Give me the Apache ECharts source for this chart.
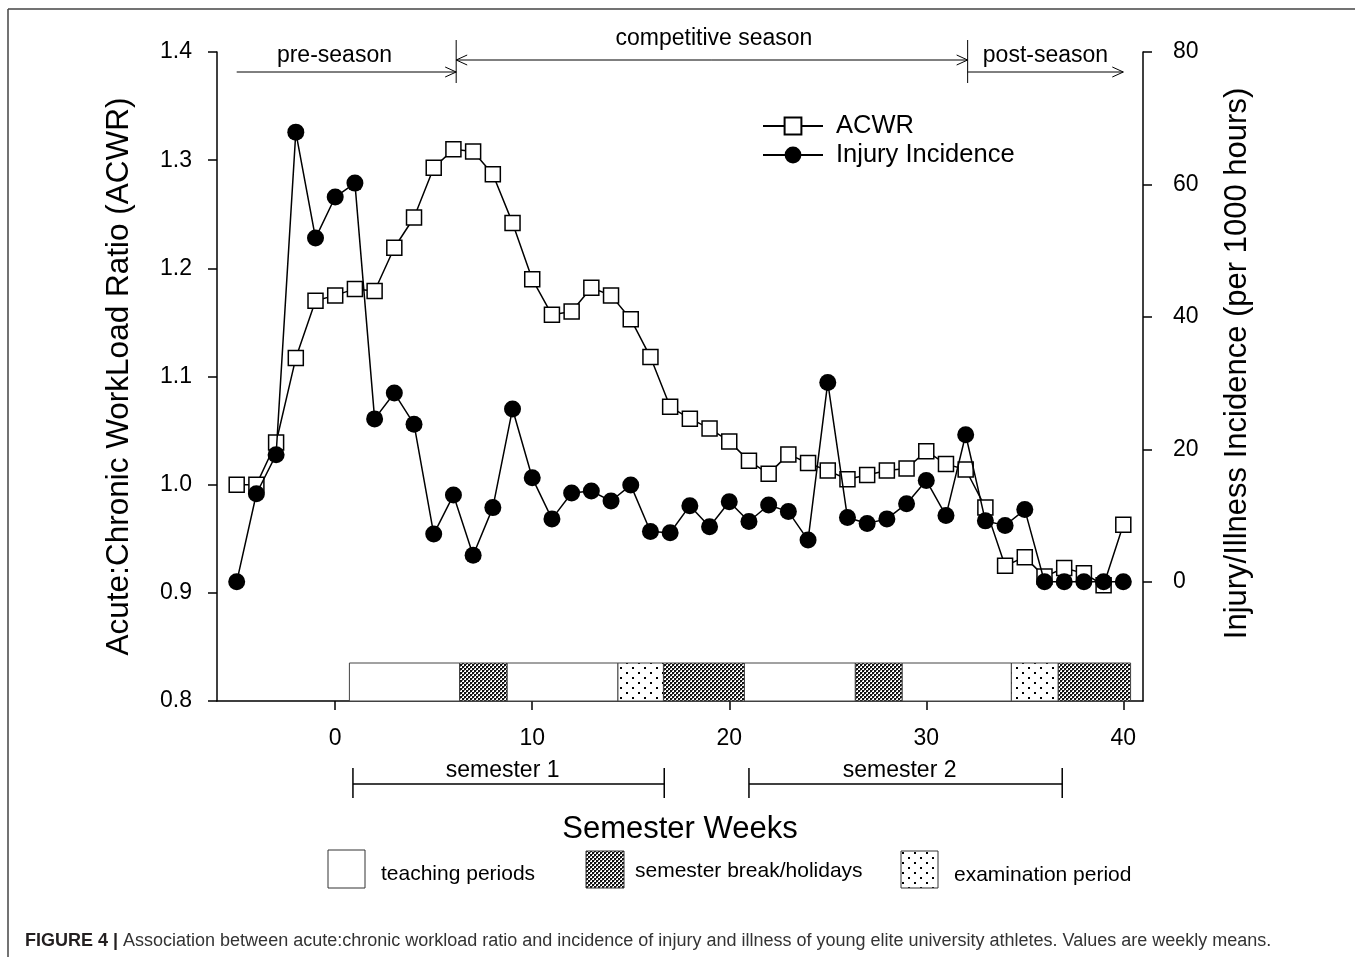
<!DOCTYPE html>
<html>
<head>
<meta charset="utf-8">
<script src="https://cdn.jsdelivr.net/npm/echarts@6.0.0/dist/echarts.min.js"></script>
<style>
html,body{margin:0;padding:0;background:#fff;}
#c{width:1355px;height:957px;}
</style>
</head>
<body>
<div id="c"></div>
<script>
// ---------- data ----------
const weeks = [-5,-4,-3,-2,-1,0,1,2,3,4,5,6,7,8,9,10,11,12,13,14,15,16,17,18,19,20,21,22,23,24,25,26,27,28,29,30,31,32,33,34,35,36,37,38,39,40];
const acwr = [1.000,1.000,1.039,1.117,1.170, 1.175,1.181,1.179,1.219,1.247, 1.293,1.310,1.308,1.287,1.242,
              1.190,1.157,1.160,1.182,1.175, 1.153,1.118,1.072,1.061,1.052, 1.040,1.022,1.010,1.028,1.020,
              1.013,1.005,1.009,1.013,1.015, 1.031,1.019,1.014,0.979,0.925, 0.933,0.915,0.923,0.918,0.907, 0.963];
const injury = [0,13.3,19.2,67.9,51.9, 58.1,60.2,24.6,28.5,23.8, 7.2,13.1,4.0,11.2,26.1,
                15.7,9.5,13.4,13.7,12.2, 14.6,7.6,7.4,11.5,8.3, 12.1,9.1,11.6,10.6,6.3,
                30.1,9.7,8.8,9.5,11.8, 15.3,10.0,22.2,9.2,8.5, 10.9,0,0,0,0, 0];
const xTicks = [0,10,20,30,40];
const rightTicks = [0,20,40,60,80];

const periodStart = [0.72, 6.31, 8.73, 14.35, 16.66, 20.77, 26.40, 28.78, 34.32, 36.70];
const periodEnd   = [6.31, 8.73, 14.35, 16.66, 20.77, 26.40, 28.78, 34.32, 36.70, 40.37];
const periodType  = ['teaching','break','teaching','exam','break','teaching','break','teaching','exam','break'];

const seasonStart = [-5, 6.14, 32.1];
const seasonEnd   = [6.14, 32.1, 40];
const seasonLabel = ['pre-season','competitive season','post-season'];

const semesterStart = [0.9, 21.0];
const semesterEnd   = [16.7, 36.9];
const semesterLabel = ['semester 1','semester 2'];

const periodLegend = ['teaching periods','semester break/holidays','examination period'];
const captionBold = 'FIGURE 4 |';
const captionText = ' Association between acute:chronic workload ratio and incidence of injury and illness of young elite university athletes. Values are weekly means.';

// ---------- patterns ----------
function makeChecker(){
  const c = document.createElement('canvas'); c.width = 4; c.height = 4;
  const g = c.getContext('2d');
  g.fillStyle = '#fff'; g.fillRect(0,0,4,4);
  g.fillStyle = '#111'; g.fillRect(0,0,2,2); g.fillRect(2,2,2,2);
  g.fillStyle = '#777'; g.fillRect(2,0,1,1); g.fillRect(0,2,1,1);
  return c;
}
function makeDots(){
  const c = document.createElement('canvas'); c.width = 12; c.height = 10;
  const g = c.getContext('2d');
  g.fillStyle = '#fff'; g.fillRect(0,0,12,10);
  g.fillStyle = '#000'; g.fillRect(2,2,2,2); g.fillRect(8,7,2,2);
  return c;
}
const FONT = '"Liberation Sans", Arial, Helvetica, sans-serif';
const fills = {
  teaching: '#fff',
  break: {image: makeChecker(), repeat: 'repeat'},
  exam: {image: makeDots(), repeat: 'repeat'}
};

const chart = echarts.init(document.getElementById('c'), null, {renderer: 'canvas'});

const option = {
  animation: false,
  backgroundColor: '#fff',
  textStyle: {fontFamily: FONT, color: '#000'},
  grid: {left: 217, right: 212, top: 52, bottom: 256, containLabel: false},
  legend: {
    data: ['ACWR', 'Injury Incidence'],
    orient: 'vertical',
    left: 762, top: 113,
    itemWidth: 60, itemHeight: 21, itemGap: 3,
    padding: 0,
    textStyle: {fontSize: 25.5, color: '#000', fontFamily: FONT, padding: [0,0,0,8]}
  },
  xAxis: {
    type: 'value', min: -6, max: 41,
    name: 'Semester Weeks', nameLocation: 'middle', nameGap: 113,
    nameTextStyle: {fontSize: 31, color: '#000', fontFamily: FONT},
    axisLine: {show: true, onZero: false, lineStyle: {color: '#000', width: 1.5}},
    axisTick: {show: true, inside: false, length: 9, customValues: xTicks, lineStyle: {color: '#000', width: 1.5}},
    axisLabel: {show: true, customValues: xTicks, fontSize: 23, margin: 26, color: '#000', fontFamily: FONT},
    splitLine: {show: false}
  },
  yAxis: [{
    type: 'value', min: 0.8, max: 1.4, interval: 0.1, position: 'left',
    name: 'Acute:Chronic WorkLoad Ratio (ACWR)', nameLocation: 'middle', nameGap: 82, nameRotate: 90,
    nameTextStyle: {fontSize: 31.5, color: '#000', fontFamily: FONT},
    axisLine: {show: true, onZero: false, lineStyle: {color: '#000', width: 1.5}},
    axisTick: {show: true, inside: false, length: 9, lineStyle: {color: '#000', width: 1.5}},
    axisLabel: {show: true, fontSize: 23, margin: 25, color: '#000', fontFamily: FONT,
                formatter: v => v.toFixed(1)},
    splitLine: {show: false}
  }, {
    type: 'value', min: -18, max: 80, position: 'right',
    name: 'Injury/Illness Incidence (per 1000 hours)', nameLocation: 'middle', nameGap: 79, nameRotate: 90,
    nameTextStyle: {fontSize: 31, color: '#000', fontFamily: FONT, padding: [0,0,0,26]},
    axisLine: {show: true, onZero: false, lineStyle: {color: '#000', width: 1.5}},
    axisTick: {show: true, inside: false, length: 9, customValues: rightTicks, lineStyle: {color: '#000', width: 1.5}},
    axisLabel: {show: true, customValues: rightTicks, fontSize: 23, margin: 30, color: '#000', fontFamily: FONT},
    splitLine: {show: false}
  }],
  series: [
    {
      name: 'schedule', type: 'custom', xAxisIndex: 0, yAxisIndex: 0, z: 1,
      data: periodStart.map((s, i) => [s, periodEnd[i], 0.8]),
      encode: {x: [0, 1], y: 2},
      silent: true,
      renderItem: (params, api) => {
        const s = api.coord([api.value(0), api.value(2)]);
        const e = api.coord([api.value(1), api.value(2)]);
        const h = 38;
        return {
          type: 'rect',
          shape: {x: s[0], y: s[1] - h, width: e[0] - s[0], height: h},
          style: {fill: fills[periodType[params.dataIndex]], stroke: '#444', lineWidth: 1}
        };
      }
    },
    {
      name: 'seasons', type: 'custom', xAxisIndex: 0, yAxisIndex: 0, z: 1,
      data: seasonStart.map((s, i) => [s, seasonEnd[i], 1.4]),
      encode: {x: [0, 1], y: 2},
      silent: true, clip: false,
      renderItem: (params, api) => {
        const s = api.coord([api.value(0), api.value(2)]);
        const e = api.coord([api.value(1), api.value(2)]);
        const top = params.coordSys.y;
        const i = params.dataIndex;
        const mid = i === 1;
        const ay = mid ? top + 8 : top + 20;
        const ty = mid ? top - 13 : top + 4;
        const ls = {stroke: '#000', lineWidth: 1, fill: null};
        const ch = [];
        ch.push({type: 'line', shape: {x1: s[0], y1: ay, x2: e[0], y2: ay}, style: ls});
        ch.push({type: 'polyline', shape: {points: [[e[0] - 11, ay - 5], [e[0], ay], [e[0] - 11, ay + 5]]}, style: ls});
        if (mid) {
          ch.push({type: 'polyline', shape: {points: [[s[0] + 11, ay - 5], [s[0], ay], [s[0] + 11, ay + 5]]}, style: ls});
          ch.push({type: 'line', shape: {x1: s[0], y1: top - 12, x2: s[0], y2: top + 31}, style: ls});
          ch.push({type: 'line', shape: {x1: e[0], y1: top - 12, x2: e[0], y2: top + 31}, style: ls});
        }
        ch.push({type: 'text', x: (s[0] + e[0]) / 2 - (i === 0 ? 12 : (mid ? -2 : 0)), y: ty,
                 style: {text: seasonLabel[i], align: 'center', verticalAlign: 'middle',
                         fontSize: 23, fontFamily: FONT, fill: '#000'}});
        return {type: 'group', children: ch};
      }
    },
    {
      name: 'semesters', type: 'custom', xAxisIndex: 0, yAxisIndex: 0, z: 1,
      data: semesterStart.map((s, i) => [s, semesterEnd[i], 0.8]),
      encode: {x: [0, 1], y: 2},
      silent: true, clip: false,
      renderItem: (params, api) => {
        const s = api.coord([api.value(0), api.value(2)]);
        const e = api.coord([api.value(1), api.value(2)]);
        const b = s[1];
        const ls = {stroke: '#000', lineWidth: 1.5, fill: null};
        return {type: 'group', children: [
          {type: 'line', shape: {x1: s[0], y1: b + 83, x2: e[0], y2: b + 83}, style: ls},
          {type: 'line', shape: {x1: s[0], y1: b + 67, x2: s[0], y2: b + 97}, style: ls},
          {type: 'line', shape: {x1: e[0], y1: b + 67, x2: e[0], y2: b + 97}, style: ls},
          {type: 'text', x: (s[0] + e[0]) / 2 - 6, y: b + 70,
           style: {text: semesterLabel[params.dataIndex], align: 'center', verticalAlign: 'middle',
                   fontSize: 23, fontFamily: FONT, fill: '#000'}}
        ]};
      }
    },
    {
      name: 'ACWR', type: 'line', xAxisIndex: 0, yAxisIndex: 0, z: 3,
      data: weeks.map((w, i) => [w, acwr[i]]),
      symbol: 'rect', symbolSize: 15, showAllSymbol: true,
      lineStyle: {color: '#000', width: 1.5},
      itemStyle: {color: '#fff', borderColor: '#000', borderWidth: 1.5},
      emphasis: {disabled: true}
    },
    {
      name: 'Injury Incidence', type: 'line', xAxisIndex: 0, yAxisIndex: 1, z: 4,
      data: weeks.map((w, i) => [w, injury[i]]),
      symbol: 'circle', symbolSize: 17, showAllSymbol: true,
      lineStyle: {color: '#000', width: 1.5},
      itemStyle: {color: '#000', borderColor: '#000', borderWidth: 0},
      emphasis: {disabled: true}
    }
  ],
  graphic: [
    {type: 'line', shape: {x1: 8, y1: 9, x2: 1355, y2: 9}, style: {stroke: '#444', lineWidth: 1.5}},
    {type: 'line', shape: {x1: 8, y1: 9, x2: 8, y2: 957}, style: {stroke: '#444', lineWidth: 1.5}},
    {type: 'rect', shape: {x: 328, y: 850, width: 37, height: 38}, style: {fill: fills.teaching, stroke: '#333', lineWidth: 1}},
    {type: 'text', x: 381, y: 874, style: {text: periodLegend[0], fontSize: 21, fontFamily: FONT, fill: '#000', verticalAlign: 'middle'}},
    {type: 'rect', shape: {x: 586, y: 851, width: 38, height: 37}, style: {fill: fills.break, stroke: '#333', lineWidth: 1}},
    {type: 'text', x: 635, y: 871, style: {text: periodLegend[1], fontSize: 21, fontFamily: FONT, fill: '#000', verticalAlign: 'middle'}},
    {type: 'rect', shape: {x: 901, y: 851, width: 37, height: 37}, style: {fill: fills.exam, stroke: '#333', lineWidth: 1}},
    {type: 'text', x: 954, y: 875, style: {text: periodLegend[2], fontSize: 21, fontFamily: FONT, fill: '#000', verticalAlign: 'middle'}},
    {type: 'text', x: 25, y: 941, style: {
      text: '{b|' + captionBold + '}{n|' + captionText + '}',
      verticalAlign: 'middle',
      rich: {
        b: {fontSize: 18, fontWeight: 'bold', fontFamily: FONT, fill: '#231f20', color: '#231f20'},
        n: {fontSize: 18, fontFamily: FONT, fill: '#333', color: '#333'}
      }
    }}
  ]
};
chart.setOption(option);
</script>
</body>
</html>
